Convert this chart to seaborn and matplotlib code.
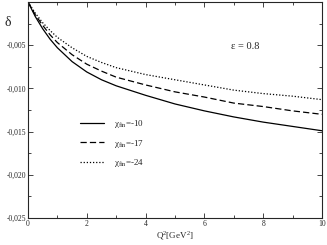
import numpy as np
import pandas as pd
import matplotlib
matplotlib.use("Agg")
import matplotlib.pyplot as plt
import matplotlib.ticker as mticker
import seaborn as sns

# Data
Q2 = [0, 0.25, 0.5, 0.75, 1, 1.5, 2, 2.5, 3, 4, 5, 6, 7, 8, 9, 10]
deltaChi10 = [0, -0.0017, -0.0031, -0.0043, -0.0053, -0.0069, -0.0081, -0.0090, -0.0097,
              -0.0108, -0.0118, -0.0126, -0.0133, -0.0139, -0.0144, -0.0149]
deltaChi17 = [0, -0.0015, -0.0027, -0.0038, -0.0047, -0.0061, -0.0072, -0.0080, -0.0087,
              -0.0096, -0.0104, -0.0110, -0.0117, -0.0121, -0.0126, -0.0130]
deltaChi24 = [0, -0.0013, -0.0024, -0.0033, -0.0041, -0.0053, -0.0063, -0.0070, -0.0076,
              -0.0084, -0.0090, -0.0096, -0.0102, -0.0106, -0.0109, -0.0113]
LABELS = [r"χ$_{\rm fin}$=-10", r"χ$_{\rm fin}$=-17", r"χ$_{\rm fin}$=-24"]
STYLES = ["-", (0, (5, 2.5)), (0, (1, 1.5))]

sns.set_style("ticks")
plt.rcParams['font.family'] = ['Liberation Serif', 'DejaVu Serif']
plt.rcParams['mathtext.fontset'] = 'custom'
plt.rcParams['mathtext.rm'] = 'Liberation Serif'

fig = plt.figure(figsize=(3.27, 2.45), dpi=100)
ax = fig.add_axes([0.0856, 0.110, 0.899, 0.882])

for vals, lab, ls in zip([deltaChi10, deltaChi17, deltaChi24], LABELS, STYLES):
    sns.lineplot(x=Q2, y=vals, ax=ax, color="black", linewidth=0.9,
                 linestyle=ls, label=lab)

ax.set_xlim(0, 10)
ax.set_ylim(-0.025, 0)
ax.xaxis.set_major_locator(mticker.MultipleLocator(2))
ax.xaxis.set_minor_locator(mticker.MultipleLocator(1))
ax.yaxis.set_major_locator(mticker.MultipleLocator(0.005))
ax.yaxis.set_minor_locator(mticker.MultipleLocator(0.0025))
ax.yaxis.set_major_formatter(mticker.FuncFormatter(
    lambda v, p: "" if abs(v) < 1e-9 else f"{v:.3f}".replace(".", ",")))
ax.xaxis.set_major_formatter(mticker.FuncFormatter(lambda v, p: f"{v:.0f}"))
ax.tick_params(which="both", direction="in", top=True, right=True, labelsize=5.5,
               width=0.6, pad=1.5)
ax.tick_params(which="major", length=3.6)
ax.tick_params(which="minor", length=2)
for s in ax.spines.values():
    s.set_linewidth(0.8)

ax.set_xlabel(r"Q$^2$[GeV$^2$]", fontsize=6.5, labelpad=1)
ax.set_ylabel("")
fig.text(0.015, 0.895, "δ", fontsize=10)
ax.text(6.9, -0.0051, "ε = 0.8", fontsize=7.5, va="center")

ax.legend(frameon=False, loc="upper left", bbox_to_anchor=(0.165, 0.48),
          fontsize=6.5, handlelength=2.6, handletextpad=1.2, labelspacing=0.85,
          borderaxespad=0)

fig.savefig("out.png", dpi=100)
